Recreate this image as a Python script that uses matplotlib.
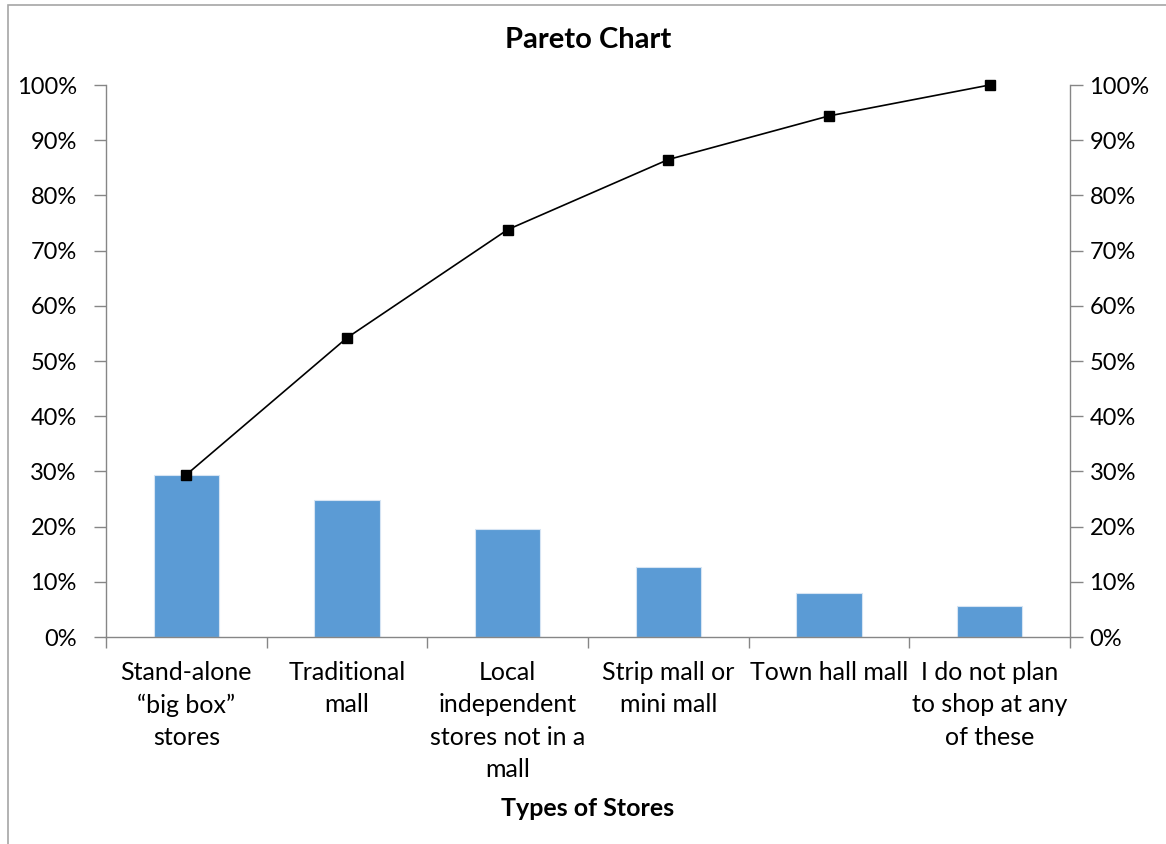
import numpy as np
import matplotlib.pyplot as plt
from matplotlib.ticker import PercentFormatter, FixedLocator
from matplotlib.patches import Rectangle

# Data
categories = ['Stand-alone\n\u201cbig box\u201d\nstores', 'Traditional\nmall',
              'Local\nindependent\nstores not in a\nmall', 'Strip mall or\nmini mall',
              'Town hall mall', 'I do not plan\nto shop at any\nof these']
share = np.array([29.4, 24.8, 19.6, 12.7, 7.9, 5.6]) / 100
cumulative = np.array([29.4, 54.2, 73.8, 86.5, 94.4, 100.0]) / 100

plt.rcParams['font.family'] = ['Lato', 'DejaVu Sans']
axis_grey = '#868686'

fig = plt.figure(figsize=(11.66, 8.44), dpi=100)
fig.patches.append(Rectangle((8 / 1166, -0.1), 1.2, 1 - 5 / 844 + 0.1, transform=fig.transFigure,
                             fill=False, edgecolor='#a6a6a6', linewidth=1.2))
ax = fig.add_axes([106 / 1166, 1 - 637 / 844, (1070 - 106) / 1166, (637 - 85) / 844])

x = np.arange(len(categories))
ax.bar(x, share, width=0.405, color='#5b9bd5', edgecolor='#d6e4f3', linewidth=0.8, zorder=2)
ax.set_xlim(-0.5, len(categories) - 0.5)
ax.set_ylim(0, 1)
ax.yaxis.set_major_locator(FixedLocator(np.arange(0, 1.01, 0.1)))
ax.yaxis.set_major_formatter(PercentFormatter(1.0, decimals=0))

ax.set_xticks(x)
ax.set_xticklabels(categories, fontsize=18, linespacing=1.5, va='top')
ax.set_xticks(np.arange(-0.5, len(categories), 1), minor=True)
ax.tick_params(axis='x', which='major', length=0, pad=17)
ax.tick_params(axis='x', which='minor', length=8, width=1, color=axis_grey, direction='out')
ax.tick_params(axis='y', length=9, width=1, color=axis_grey, labelsize=17, pad=12)

for s in ['top', 'right']:
    ax.spines[s].set_visible(False)
for s in ['left', 'bottom']:
    ax.spines[s].set_color(axis_grey)
    ax.spines[s].set_linewidth(1)

ax2 = ax.twinx()
ax2.plot(x, cumulative, color='black', linewidth=1.2, marker='s', markersize=7,
         zorder=3, clip_on=False)
ax2.set_ylim(0, 1)
ax2.yaxis.set_major_locator(FixedLocator(np.arange(0, 1.01, 0.1)))
ax2.yaxis.set_major_formatter(PercentFormatter(1.0, decimals=0))
ax2.tick_params(axis='y', length=9, width=1, color=axis_grey, labelsize=17, pad=5)
for s in ['top', 'left', 'bottom']:
    ax2.spines[s].set_visible(False)
ax2.spines['right'].set_color(axis_grey)
ax2.spines['right'].set_linewidth(1)

fig.text(588 / 1166, 1 - 40 / 844, 'Pareto Chart', ha='center', va='center',
         fontsize=21, fontweight='bold')
fig.text(588 / 1166, 1 - 809 / 844, 'Types of Stores', ha='center', va='center',
         fontsize=18, fontweight='bold')

fig.savefig('out.png', dpi=100)
